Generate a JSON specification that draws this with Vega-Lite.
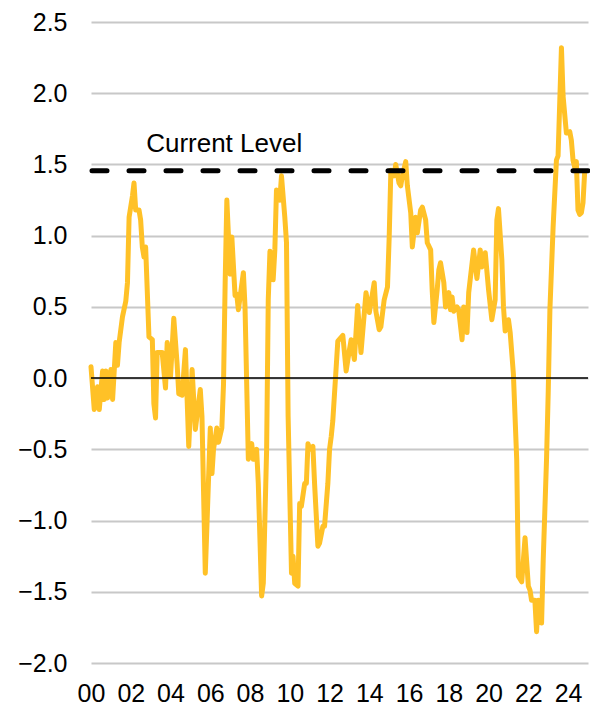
{
  "$schema": "https://vega.github.io/schema/vega-lite/v6.json",
  "width": 497,
  "height": 641,
  "autosize": {"type": "none"},
  "padding": {"left": 91, "top": 22, "right": 2, "bottom": 43},
  "background": "white",
  "config": {
    "view": {"stroke": null},
    "font": "Liberation Sans",
    "axis": {"labelFont": "Liberation Sans", "labelColor": "#000000"}
  },
  "datasets": {
    "series": [
      {"date": "2000-01", "value": 0.08},
      {"date": "2000-03", "value": -0.22},
      {"date": "2000-05", "value": -0.06},
      {"date": "2000-06", "value": -0.22},
      {"date": "2000-08", "value": 0.05},
      {"date": "2000-09", "value": -0.15},
      {"date": "2000-10", "value": 0.05},
      {"date": "2000-11", "value": -0.14},
      {"date": "2001-01", "value": 0.06},
      {"date": "2001-02", "value": -0.15},
      {"date": "2001-04", "value": 0.25},
      {"date": "2001-05", "value": 0.09},
      {"date": "2001-06", "value": 0.25},
      {"date": "2001-08", "value": 0.43},
      {"date": "2001-10", "value": 0.54},
      {"date": "2001-11", "value": 0.67},
      {"date": "2001-12", "value": 1.13},
      {"date": "2002-02", "value": 1.28},
      {"date": "2002-03", "value": 1.37},
      {"date": "2002-04", "value": 1.18},
      {"date": "2002-06", "value": 1.18},
      {"date": "2002-07", "value": 1.11},
      {"date": "2002-08", "value": 0.92},
      {"date": "2002-09", "value": 0.85},
      {"date": "2002-10", "value": 0.92},
      {"date": "2002-12", "value": 0.29},
      {"date": "2003-02", "value": 0.27},
      {"date": "2003-03", "value": -0.18},
      {"date": "2003-04", "value": -0.28},
      {"date": "2003-05", "value": 0.18},
      {"date": "2003-08", "value": 0.18},
      {"date": "2003-10", "value": -0.07},
      {"date": "2003-11", "value": 0.25},
      {"date": "2004-01", "value": 0.01},
      {"date": "2004-03", "value": 0.42},
      {"date": "2004-05", "value": 0.1},
      {"date": "2004-06", "value": -0.11},
      {"date": "2004-08", "value": -0.12},
      {"date": "2004-10", "value": 0.2},
      {"date": "2004-12", "value": -0.48},
      {"date": "2005-02", "value": 0.06},
      {"date": "2005-04", "value": -0.36},
      {"date": "2005-07", "value": -0.08},
      {"date": "2005-08", "value": -0.27},
      {"date": "2005-10", "value": -1.37},
      {"date": "2006-01", "value": -0.35},
      {"date": "2006-02", "value": -0.67},
      {"date": "2006-03", "value": -0.5},
      {"date": "2006-05", "value": -0.35},
      {"date": "2006-06", "value": -0.45},
      {"date": "2006-08", "value": -0.35},
      {"date": "2006-09", "value": -0.04},
      {"date": "2006-10", "value": 0.67},
      {"date": "2006-11", "value": 1.25},
      {"date": "2007-01", "value": 0.73},
      {"date": "2007-02", "value": 0.99},
      {"date": "2007-04", "value": 0.58},
      {"date": "2007-05", "value": 0.59},
      {"date": "2007-06", "value": 0.48},
      {"date": "2007-09", "value": 0.74},
      {"date": "2007-10", "value": 0.5},
      {"date": "2007-12", "value": -0.57},
      {"date": "2008-02", "value": -0.46},
      {"date": "2008-03", "value": -0.57},
      {"date": "2008-05", "value": -0.5},
      {"date": "2008-06", "value": -0.74},
      {"date": "2008-08", "value": -1.53},
      {"date": "2008-09", "value": -1.44},
      {"date": "2008-11", "value": -0.5},
      {"date": "2008-12", "value": 0.55},
      {"date": "2009-01", "value": 0.89},
      {"date": "2009-03", "value": 0.69},
      {"date": "2009-04", "value": 0.9},
      {"date": "2009-05", "value": 1.32},
      {"date": "2009-07", "value": 1.25},
      {"date": "2009-08", "value": 1.42},
      {"date": "2009-10", "value": 1.13},
      {"date": "2009-11", "value": 0.95},
      {"date": "2009-12", "value": -0.27},
      {"date": "2010-02", "value": -1.37},
      {"date": "2010-03", "value": -1.25},
      {"date": "2010-04", "value": -1.44},
      {"date": "2010-06", "value": -1.46},
      {"date": "2010-07", "value": -0.88},
      {"date": "2010-08", "value": -0.9},
      {"date": "2010-10", "value": -0.74},
      {"date": "2010-11", "value": -0.74},
      {"date": "2010-12", "value": -0.46},
      {"date": "2011-01", "value": -0.5},
      {"date": "2011-03", "value": -0.48},
      {"date": "2011-04", "value": -0.74},
      {"date": "2011-06", "value": -1.18},
      {"date": "2011-07", "value": -1.16},
      {"date": "2011-09", "value": -1.04},
      {"date": "2011-10", "value": -1.04},
      {"date": "2011-12", "value": -0.74},
      {"date": "2012-01", "value": -0.5},
      {"date": "2012-02", "value": -0.41},
      {"date": "2012-03", "value": -0.3},
      {"date": "2012-06", "value": 0.26},
      {"date": "2012-09", "value": 0.3},
      {"date": "2012-11", "value": 0.05},
      {"date": "2013-01", "value": 0.2},
      {"date": "2013-02", "value": 0.27},
      {"date": "2013-04", "value": 0.13},
      {"date": "2013-06", "value": 0.51},
      {"date": "2013-08", "value": 0.18},
      {"date": "2013-11", "value": 0.6},
      {"date": "2014-01", "value": 0.46},
      {"date": "2014-04", "value": 0.67},
      {"date": "2014-05", "value": 0.47},
      {"date": "2014-07", "value": 0.34},
      {"date": "2014-08", "value": 0.36},
      {"date": "2014-10", "value": 0.55},
      {"date": "2014-12", "value": 0.64},
      {"date": "2015-01", "value": 0.99},
      {"date": "2015-02", "value": 1.46},
      {"date": "2015-04", "value": 1.42},
      {"date": "2015-05", "value": 1.5},
      {"date": "2015-07", "value": 1.37},
      {"date": "2015-08", "value": 1.35},
      {"date": "2015-09", "value": 1.42},
      {"date": "2015-11", "value": 1.52},
      {"date": "2015-12", "value": 1.35},
      {"date": "2016-02", "value": 1.16},
      {"date": "2016-03", "value": 0.92},
      {"date": "2016-05", "value": 1.13},
      {"date": "2016-06", "value": 1.02},
      {"date": "2016-08", "value": 1.18},
      {"date": "2016-09", "value": 1.2},
      {"date": "2016-11", "value": 1.11},
      {"date": "2016-12", "value": 0.95},
      {"date": "2017-02", "value": 0.9},
      {"date": "2017-03", "value": 0.62},
      {"date": "2017-04", "value": 0.39},
      {"date": "2017-06", "value": 0.62},
      {"date": "2017-07", "value": 0.76},
      {"date": "2017-08", "value": 0.81},
      {"date": "2017-10", "value": 0.67},
      {"date": "2017-11", "value": 0.5},
      {"date": "2018-01", "value": 0.6},
      {"date": "2018-02", "value": 0.48},
      {"date": "2018-03", "value": 0.57},
      {"date": "2018-04", "value": 0.47},
      {"date": "2018-06", "value": 0.5},
      {"date": "2018-07", "value": 0.48},
      {"date": "2018-09", "value": 0.27},
      {"date": "2018-10", "value": 0.5},
      {"date": "2018-12", "value": 0.32},
      {"date": "2019-01", "value": 0.6},
      {"date": "2019-04", "value": 0.9},
      {"date": "2019-05", "value": 0.8},
      {"date": "2019-06", "value": 0.7},
      {"date": "2019-08", "value": 0.9},
      {"date": "2019-09", "value": 0.78},
      {"date": "2019-11", "value": 0.88},
      {"date": "2020-01", "value": 0.62},
      {"date": "2020-03", "value": 0.41},
      {"date": "2020-05", "value": 0.55},
      {"date": "2020-06", "value": 1.11},
      {"date": "2020-07", "value": 1.19},
      {"date": "2020-09", "value": 0.83},
      {"date": "2020-10", "value": 0.5},
      {"date": "2020-11", "value": 0.33},
      {"date": "2021-01", "value": 0.41},
      {"date": "2021-02", "value": 0.32},
      {"date": "2021-04", "value": 0.03},
      {"date": "2021-06", "value": -0.57},
      {"date": "2021-07", "value": -1.39},
      {"date": "2021-09", "value": -1.43},
      {"date": "2021-10", "value": -1.28},
      {"date": "2021-11", "value": -1.12},
      {"date": "2022-01", "value": -1.46},
      {"date": "2022-02", "value": -1.49},
      {"date": "2022-03", "value": -1.56},
      {"date": "2022-05", "value": -1.56},
      {"date": "2022-06", "value": -1.78},
      {"date": "2022-07", "value": -1.56},
      {"date": "2022-08", "value": -1.58},
      {"date": "2022-09", "value": -1.72},
      {"date": "2022-10", "value": -1.28},
      {"date": "2022-12", "value": -0.57},
      {"date": "2023-01", "value": -0.1},
      {"date": "2023-02", "value": 0.48},
      {"date": "2023-04", "value": 1.06},
      {"date": "2023-06", "value": 1.53},
      {"date": "2023-07", "value": 1.56},
      {"date": "2023-09", "value": 2.32},
      {"date": "2023-10", "value": 1.98},
      {"date": "2023-12", "value": 1.72},
      {"date": "2024-02", "value": 1.73},
      {"date": "2024-03", "value": 1.67},
      {"date": "2024-04", "value": 1.53},
      {"date": "2024-05", "value": 1.48},
      {"date": "2024-06", "value": 1.52},
      {"date": "2024-07", "value": 1.18},
      {"date": "2024-08", "value": 1.15},
      {"date": "2024-09", "value": 1.16},
      {"date": "2024-10", "value": 1.23},
      {"date": "2024-11", "value": 1.45}
    ],
    "current": [{"level": 1.455}],
    "zero": [{"level": 0}],
    "label": [{"date": "2006-09-13", "value": 1.585, "text": "Current Level"}]
  },
  "layer": [
    {
      "data": {"name": "series"},
      "mark": {"type": "line", "color": "#FFC127", "strokeWidth": 5, "strokeJoin": "round", "strokeCap": "round"},
      "encoding": {
        "x": {
          "field": "date",
          "type": "temporal",
          "scale": {"domain": ["2000-01-01", "2025-01-01"]},
          "axis": {
            "values": ["2000-01-01", "2002-01-01", "2004-01-01", "2006-01-01", "2008-01-01", "2010-01-01", "2012-01-01", "2014-01-01", "2016-01-01", "2018-01-01", "2020-01-01", "2022-01-01", "2024-01-01"],
            "format": "%y",
            "title": null,
            "grid": false,
            "domain": false,
            "ticks": false,
            "labelFontSize": 25,
            "labelPadding": 18,
            "labelAlign": "center",
            "labelFlush": false,
            "labelOverlap": false
          }
        },
        "y": {
          "field": "value",
          "type": "quantitative",
          "scale": {"domain": [-2, 2.5], "nice": false, "zero": false},
          "axis": {
            "values": [-2, -1.5, -1, -0.5, 0, 0.5, 1, 1.5, 2, 2.5],
            "format": ".1f",
            "title": null,
            "domain": false,
            "ticks": false,
            "grid": true,
            "gridColor": "#C8C8C8",
            "gridWidth": 2,
            "labelFontSize": 25,
            "labelPadding": 24,
            "labelFlush": false
          }
        }
      }
    },
    {
      "data": {"name": "zero"},
      "mark": {"type": "rule", "color": "#000000", "strokeWidth": 1.5},
      "encoding": {"y": {"field": "level", "type": "quantitative"}}
    },
    {
      "data": {"name": "current"},
      "mark": {"type": "rule", "color": "#000000", "strokeWidth": 5, "strokeDash": [15, 22], "strokeCap": "round"},
      "encoding": {"y": {"field": "level", "type": "quantitative"}}
    },
    {
      "data": {"name": "label"},
      "mark": {"type": "text", "fontSize": 26, "align": "center", "baseline": "alphabetic", "color": "#000000"},
      "encoding": {
        "x": {"field": "date", "type": "temporal"},
        "y": {"field": "value", "type": "quantitative"},
        "text": {"field": "text"}
      }
    }
  ]
}
